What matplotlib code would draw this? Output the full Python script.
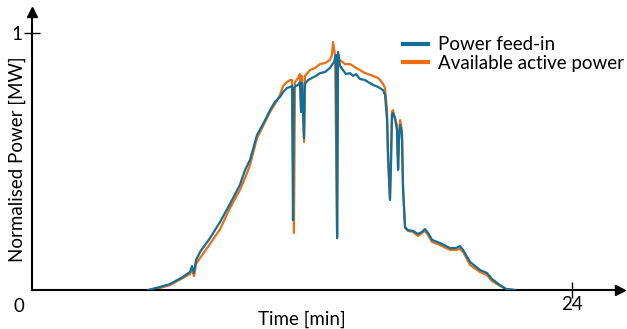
import matplotlib.pyplot as plt

# time of day [h] and normalised power
t_feed = [5.16, 5.69, 6.13, 6.71, 7.02, 7.11, 7.20, 7.29, 7.47, 7.91, 8.36, 8.80,
          9.24, 9.47, 9.69, 10.00, 10.36, 10.58, 10.80, 11.02, 11.16, 11.33, 11.47,
          11.56, 11.60, 11.64, 11.73, 11.82, 11.91, 11.96, 12.00, 12.09, 12.13,
          12.27, 12.44, 12.62, 12.80, 13.02, 13.24, 13.42, 13.51, 13.56, 13.60,
          13.69, 13.82, 13.96, 14.13, 14.27, 14.40, 14.58, 14.80, 15.02, 15.16,
          15.38, 15.60, 15.69, 15.78, 15.82, 15.91, 15.96, 16.00, 16.04, 16.13,
          16.22, 16.27, 16.31, 16.36, 16.44, 16.49, 16.58, 16.71, 16.93, 17.16,
          17.33, 17.47, 17.60, 17.78, 18.13, 18.58, 18.84, 19.02, 19.16, 19.47,
          19.91, 20.22, 20.44, 20.80, 21.07, 21.47]
p_feed = [0.0, 0.012, 0.023, 0.051, 0.070, 0.093, 0.066, 0.117, 0.148, 0.202,
          0.265, 0.335, 0.409, 0.467, 0.506, 0.603, 0.661, 0.700, 0.732, 0.751,
          0.770, 0.786, 0.790, 0.794, 0.272, 0.786, 0.794, 0.798, 0.809, 0.693,
          0.805, 0.591, 0.802, 0.817, 0.825, 0.833, 0.844, 0.848, 0.864, 0.887,
          0.914, 0.202, 0.926, 0.872, 0.856, 0.840, 0.844, 0.833, 0.840, 0.821,
          0.817, 0.805, 0.798, 0.790, 0.778, 0.759, 0.661, 0.545, 0.350, 0.506,
          0.681, 0.689, 0.669, 0.623, 0.467, 0.584, 0.642, 0.611, 0.389, 0.245,
          0.233, 0.230, 0.218, 0.226, 0.237, 0.222, 0.195, 0.183, 0.163, 0.163,
          0.171, 0.156, 0.109, 0.078, 0.066, 0.043, 0.019, 0.004, 0.0]

t_avail = [5.16, 5.69, 6.13, 6.71, 7.02, 7.11, 7.20, 7.29, 7.47, 7.91, 8.36, 8.80,
           9.24, 9.47, 9.69, 10.00, 10.36, 10.58, 10.80, 11.02, 11.16, 11.33, 11.47,
           11.56, 11.64, 11.69, 11.82, 11.91, 11.96, 12.00, 12.09, 12.13, 12.36,
           12.58, 12.80, 13.02, 13.24, 13.33, 13.38, 13.47, 13.56, 13.60, 13.69,
           13.91, 14.13, 14.27, 14.40, 14.58, 14.71, 14.93, 15.16, 15.38, 15.47,
           15.60, 15.69, 15.78, 15.82, 15.91, 15.96, 16.00, 16.04, 16.13, 16.22,
           16.27, 16.31, 16.36, 16.44, 16.49, 16.58, 16.71, 16.93, 17.16, 17.33,
           17.47, 17.60, 17.78, 18.13, 18.58, 18.84, 19.02, 19.16, 19.47, 19.91,
           20.22, 20.44, 20.80, 21.07, 21.47]
p_avail = [0.0, 0.008, 0.019, 0.047, 0.062, 0.078, 0.054, 0.101, 0.125, 0.179,
           0.237, 0.319, 0.389, 0.436, 0.486, 0.591, 0.654, 0.693, 0.724, 0.759,
           0.794, 0.809, 0.817, 0.817, 0.222, 0.809, 0.825, 0.840, 0.693, 0.833,
           0.576, 0.833, 0.856, 0.864, 0.879, 0.883, 0.895, 0.914, 0.965, 0.914,
           0.214, 0.887, 0.895, 0.879, 0.879, 0.872, 0.864, 0.856, 0.848, 0.840,
           0.833, 0.825, 0.817, 0.802, 0.786, 0.700, 0.506, 0.358, 0.545, 0.693,
           0.700, 0.669, 0.642, 0.475, 0.591, 0.661, 0.623, 0.409, 0.241, 0.230,
           0.226, 0.210, 0.222, 0.230, 0.214, 0.187, 0.175, 0.156, 0.156, 0.160,
           0.148, 0.097, 0.070, 0.058, 0.035, 0.016, 0.004, 0.0]

c_feed = '#136f97'
c_avail = '#ec6e12'
fam = ['Lato', 'DejaVu Sans']

fig = plt.figure(figsize=(6.27, 3.29), dpi=100)
ax = fig.add_axes([32/627, 39/329, 588/627, 278/329])

ax.plot(t_avail, p_avail, color=c_avail, lw=1.6, label='Available active power', zorder=2)
ax.plot(t_feed, p_feed, color=c_feed, lw=1.6, label='Power feed-in', zorder=3)

ax.set_xlim(0, 588/22.5)
ax.set_ylim(0, 278/257)
for s in ['top', 'right']:
    ax.spines[s].set_visible(False)
for s in ['left', 'bottom']:
    ax.spines[s].set_linewidth(1.5)
ax.plot(1, 0, '>k', ms=7, transform=ax.get_yaxis_transform(), clip_on=False)
ax.plot(0, 1, '^k', ms=7, transform=ax.get_xaxis_transform(), clip_on=False)

ax.set_xticks([24])
ax.set_xticklabels(['24'], family=fam, fontsize=13.5)
ax.set_yticks([1])
ax.set_yticklabels(['1'], family=fam, fontsize=13.5)
ax.tick_params(direction='inout', length=12, width=1, pad=-2)
ax.tick_params(axis='y', pad=1)
ax.text(-0.022, -0.03, '0', transform=ax.transAxes, ha='center', va='top',
        family=fam, fontsize=13.5)

ax.set_xlabel('Time [min]', family=fam, fontsize=13.5)
ax.xaxis.set_label_coords(270/588, -0.075)
ax.set_ylabel('Normalised Power [MW]', family=fam, fontsize=13.5)
ax.yaxis.set_label_coords(-0.01, 0.47)

h, l = ax.get_legend_handles_labels()
leg = ax.legend(h[::-1], l[::-1], loc='upper right', bbox_to_anchor=(1.02, 0.94),
                frameon=False, prop={'family': fam, 'size': 13.5}, handlelength=1.35,
                handletextpad=0.55, labelspacing=0.1, borderaxespad=0)
for line in leg.get_lines():
    line.set_linewidth(3)

fig.savefig('out.png', dpi=100)
